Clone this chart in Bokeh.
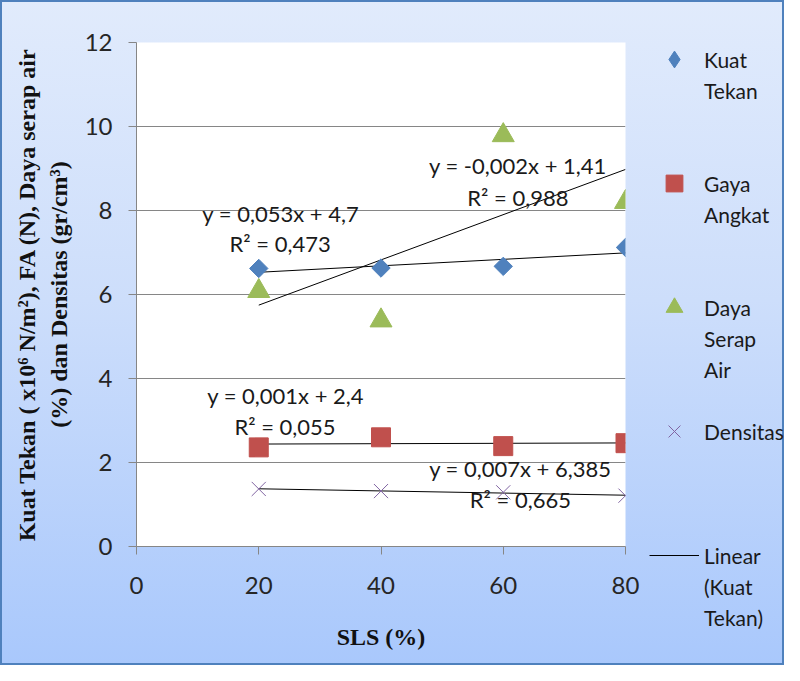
import numpy as np
from bokeh.plotting import figure
from bokeh.models import Range1d, Legend, LegendItem, Label
from bokeh.embed import file_html
from bokeh.resources import INLINE

# ---- data ----
sls = [20, 40, 60, 80]
kuat_tekan = [6.62, 6.63, 6.67, 7.12]
gaya_angkat = [2.36, 2.60, 2.39, 2.46]
daya_serap = [6.08, 5.38, 9.79, 8.20]
densitas = [1.37, 1.32, 1.29, 1.21]

x_ticks = [0, 20, 40, 60, 80]
y_ticks = [0, 2, 4, 6, 8, 10, 12]

# legend entries, wrapped the way the chart wraps them
series_names = [["Kuat", "Tekan"], ["Gaya", "Angkat"], ["Daya", "Serap", "Air"],
                ["Densitas"], ["Linear", "(Kuat", "Tekan)"]]

# equation labels as printed on the chart: (text, x, y)
eq_labels = [
    ("y = 0,053x + 4,7", 23.6, 7.93),
    ("R\u00b2 = 0,473", 23.5, 7.21),
    ("y = -0,002x + 1,41", 62.4, 9.07),
    ("R\u00b2 = 0,988", 62.4, 8.32),
    ("y = 0,001x + 2,4", 24.4, 3.60),
    ("R\u00b2 = 0,055", 24.3, 2.86),
    ("y = 0,007x + 6,385", 62.8, 1.86),
    ("R\u00b2 = 0,665", 62.8, 1.11),
]

BLUE = "#4f81bd"
RED = "#c0504d"
GREEN = "#9bbb59"
PURPLE = "#8064a2"
FONT = "Lato"
W, H = 784, 665
LEG_X = 649          # where the legend panel starts
ROWS_PER_ENTRY = 4   # legend line slots per entry

p = figure(width=W, height=H, output_backend="svg", toolbar_location=None,
           x_range=Range1d(0, 80), y_range=Range1d(0, 12),
           min_border_left=136, min_border_right=159,
           min_border_top=42, min_border_bottom=119)
p.styles = {"position": "absolute", "left": "0px", "top": "0px",
            "background": "linear-gradient(180deg, #e1ebfc 0%, #cddefb 45%, #a9c8fc 100%)",
            "outline": "2px solid #4f81bd", "outline-offset": "-2px"}
p.border_fill_alpha = 0
p.background_fill_color = "white"
p.outline_line_color = None

for ax in (p.xaxis[0], p.yaxis[0]):
    ax.axis_line_color = "#868686"
    ax.major_tick_line_color = "#868686"
    ax.major_tick_out = 8
    ax.major_tick_in = 0
    ax.minor_tick_line_color = None
    ax.major_label_text_font = FONT
    ax.major_label_text_font_size = "24px"
    ax.major_label_text_color = "#262626"
    ax.axis_label_text_font = "Liberation Serif"
    ax.axis_label_text_font_style = "bold"
    ax.axis_label_text_color = "#111111"

p.xaxis.ticker = x_ticks
p.yaxis.ticker = y_ticks
p.xaxis.major_label_standoff = 22
p.yaxis.major_label_standoff = 16
p.xaxis.axis_label = "SLS (%)"
p.xaxis.axis_label_text_font_size = "24px"
p.xaxis.axis_label_standoff = 27
p.yaxis.axis_label = ("Kuat Tekan ( x10\u2076 N/m\u00b2), FA (N), Daya serap air\n"
                      "(%) dan Densitas (gr/cm\u00b3)")
p.yaxis.axis_label_text_font_size = "24px"
p.yaxis.axis_label_standoff = 10

p.xgrid.grid_line_color = None
p.ygrid.grid_line_color = "#868686"
p.ygrid.grid_line_width = 1

# trend lines (least squares from the data)
xs = np.array(sls, dtype=float)
xend = [xs.min(), xs.max()]
fits = [np.polyfit(xs, np.array(ys), 1) for ys in (kuat_tekan, gaya_angkat, daya_serap, densitas)]
for m, b in fits:
    p.line(xend, [m * xend[0] + b, m * xend[1] + b], line_color="black", line_width=1)

marker_styles = [
    dict(marker="square", angle=np.pi / 4, size=13, fill_color=BLUE, line_color=BLUE),
    dict(marker="square", size=19, fill_color=RED, line_color=RED),
    dict(marker="triangle", size=22, fill_color=GREEN, line_color=GREEN),
    dict(marker="x", size=20, line_color=PURPLE, line_width=1),
]
all_series = [kuat_tekan, gaya_angkat, daya_serap, densitas]
for ys, st in zip(all_series, marker_styles):
    p.scatter(sls, ys, **st)

for txt, lx, ly in eq_labels:
    p.add_layout(Label(x=lx, y=ly, text=txt, text_font=FONT, text_font_size="22px",
                       text_color="#1a1a1a", text_align="center", text_baseline="middle"))

# ---- legend panel laid over the right margin: same series as hidden renderers ----
lg = figure(width=W - LEG_X, height=H, output_backend="svg", toolbar_location=None,
            x_range=Range1d(0, 1), y_range=Range1d(0, 1),
            x_axis_location=None, y_axis_location=None,
            min_border=0)
lg.styles = {"position": "absolute", "left": f"{LEG_X}px", "top": "0px"}
lg.border_fill_alpha = 0
lg.background_fill_alpha = 0
lg.outline_line_color = None
lg.grid.visible = False

legend_styles = [dict(marker_styles[0], marker="diamond", angle=0)] + marker_styles[1:]
leg_renderers = []
for ys, st in zip(all_series, legend_styles):
    leg_renderers.append(lg.scatter(sls, ys, visible=False, **st))
m0, b0 = fits[0]
leg_renderers.append(lg.line(xend, [m0 * xend[0] + b0, m0 * xend[1] + b0],
                             line_color="black", line_width=1, visible=False))
no_swatch = lg.scatter([], [], marker="square", fill_alpha=0, line_alpha=0, visible=False)

LINE = 31          # legend text line pitch, px
GLYPH_H = 42
TOP = 59           # first legend line centre, px from top
LEFT = 0

# swatches: one per entry
sw_gap = ROWS_PER_ENTRY * LINE - GLYPH_H
sw_height = 5 * GLYPH_H + 4 * sw_gap
sw = Legend(items=[LegendItem(label=" ", renderers=[r]) for r in leg_renderers],
            location=(LEFT, H - (TOP - GLYPH_H / 2) - sw_height))
sw.spacing = sw_gap
sw.glyph_height = GLYPH_H
sw.label_height = GLYPH_H
sw.glyph_width = 50

# text lines: one legend row per printed line
text_rows = []
for i, lines in enumerate(series_names):
    text_rows += lines
    if i < len(series_names) - 1:
        text_rows += [" "] * (ROWS_PER_ENTRY - len(lines))
tx = Legend(items=[LegendItem(label=t, renderers=[no_swatch]) for t in text_rows],
            location=(LEFT, H - (TOP - LINE / 2) - len(text_rows) * LINE))
tx.spacing = 0
tx.glyph_height = LINE
tx.label_height = LINE
tx.glyph_width = 50

for L in (sw, tx):
    L.background_fill_alpha = 0
    L.border_line_color = None
    L.margin = 0
    L.padding = 0
    L.label_text_font = FONT
    L.label_text_font_size = "21px"
    L.label_text_color = "#1a1a1a"
    L.label_standoff = 5
    lg.add_layout(L, "center")

open("out.html", "w").write(file_html([p, lg], INLINE))
